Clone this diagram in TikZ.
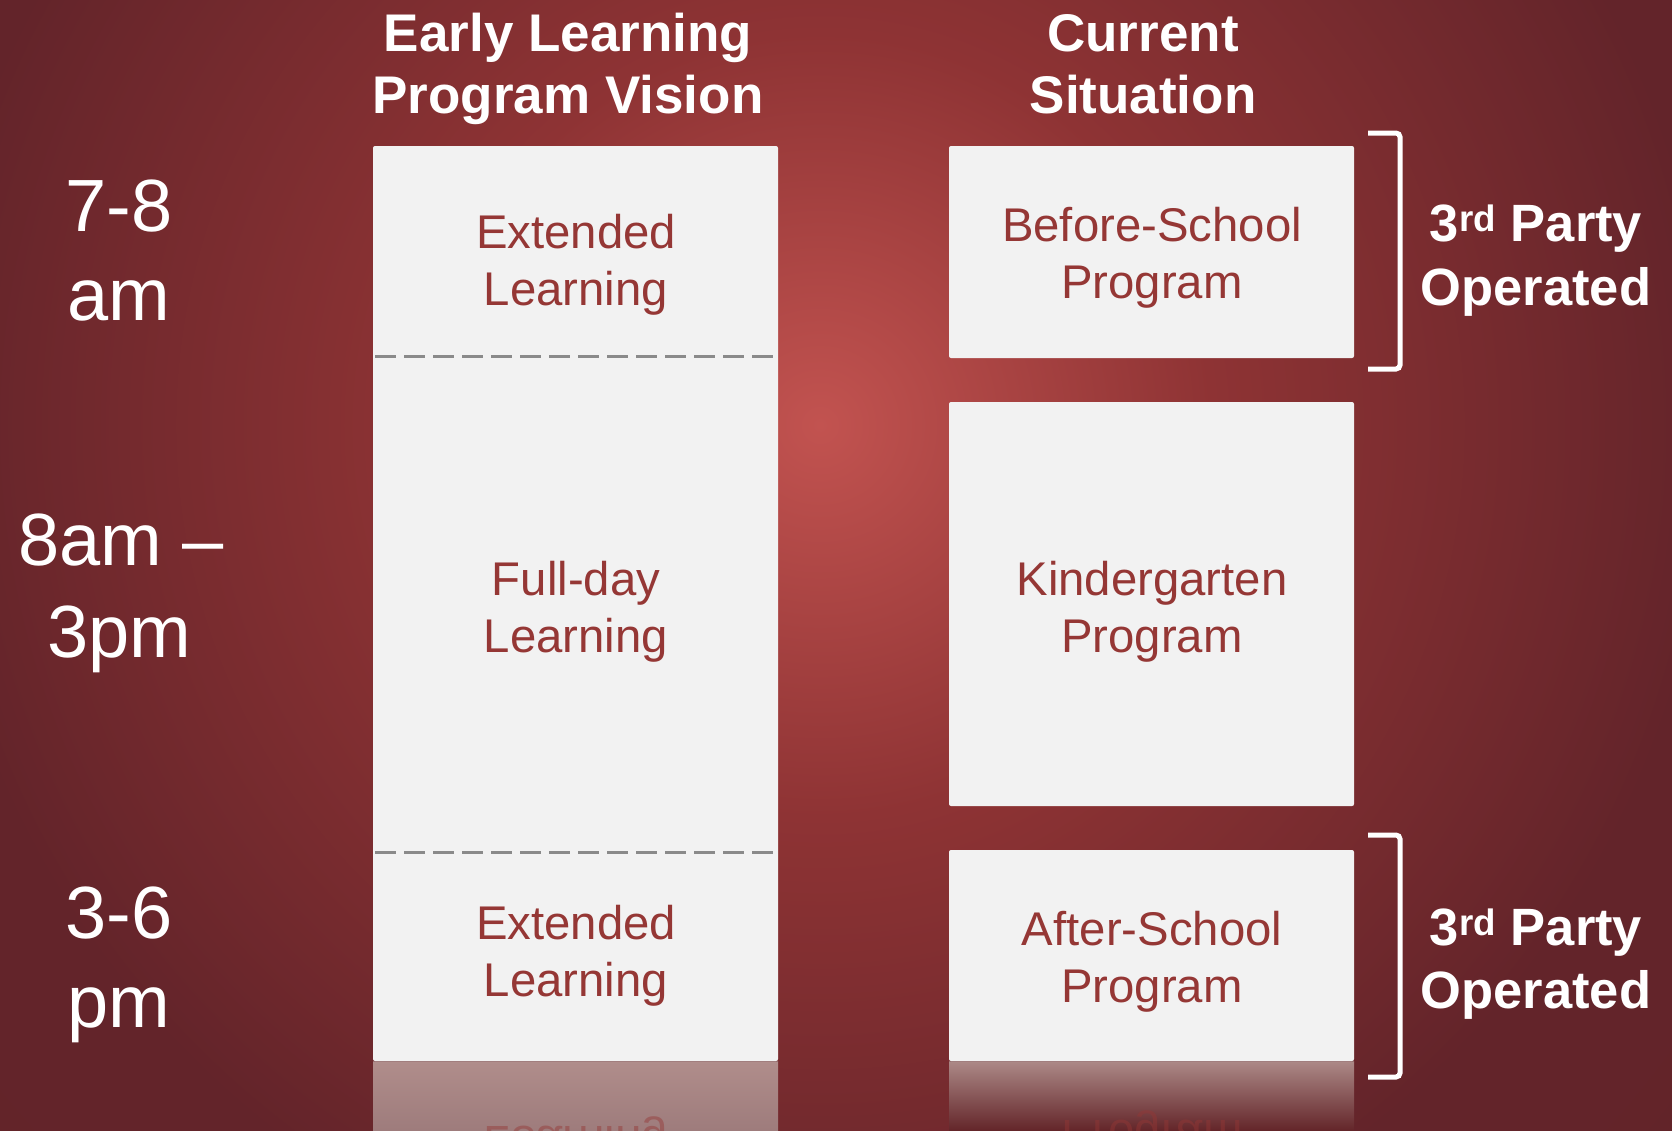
\documentclass[tikz,border=0pt]{standalone}
\usepackage{fontspec}
\setmainfont{Liberation Sans}
\definecolor{bgc}{HTML}{C25350}
\definecolor{bgm}{HTML}{8E3334}
\definecolor{bgd}{HTML}{63242A}
\definecolor{bge}{HTML}{5E2024}
\definecolor{boxfill}{HTML}{F2F2F2}
\definecolor{boxtext}{HTML}{953735}
\definecolor{dashgray}{HTML}{8A8A8A}
\definecolor{refltopL}{RGB}{176,141,139}
\definecolor{reflbotL}{RGB}{158,124,124}
\definecolor{refltopR}{RGB}{172,137,135}
\definecolor{reflbotR}{RGB}{100,38,42}
\definecolor{refledge}{RGB}{150,110,110}
\pgfdeclareradialshading{bgshade}{\pgfpoint{0bp}{0bp}}{color(0bp)=(bgc); color(7bp)=(bgm); color(16bp)=(bgd); color(50bp)=(bge)}
\tikzset{
  x=1pt, y=-1pt,
  panel/.style={fill=boxfill, rounded corners=2pt},
  boxtxt/.style={anchor=base, inner sep=0pt, text=boxtext, font=\fontsize{47.3}{57}\selectfont},
  timetxt/.style={anchor=base, inner sep=0pt, text=white, font=\fontsize{74}{89}\selectfont},
  headtxt/.style={anchor=base, inner sep=0pt, text=white, font=\bfseries\fontsize{53}{62}\selectfont},
  partytxt/.style={anchor=base, inner sep=0pt, text=white, font=\bfseries\fontsize{52.5}{64}\selectfont},
  sepline/.style={draw=dashgray, line width=3pt, dash pattern=on 21pt off 8pt},
  bracketline/.style={draw=white, line width=5pt, rounded corners=4pt},
}
\begin{document}
\begin{tikzpicture}
\useasboundingbox (0,0) rectangle (1672,1130);
\clip (0,0) rectangle (1672,1130);
\fill[bge] (0,0) rectangle (1672,1130);
\shade[shading=bgshade] (-580,-975) rectangle (2220,1825);

% headers
\node[headtxt] (h1a) at (568,51) {Early Learning};
\node[headtxt] (h1b) at (568,113) {Program Vision};
\node[headtxt] (h2a) at (1143,51) {Current};
\node[headtxt] (h2b) at (1143,113) {Situation};

% time labels
\node[timetxt] (t1a) at (119,231) {7-8};
\node[timetxt] (t1b) at (119,320) {am};
\node[timetxt] (t2a) at (121,565) {8am --};
\node[timetxt] (t2b) at (119,657) {3pm};
\node[timetxt] (t3a) at (119,938) {3-6};
\node[timetxt] (t3b) at (119,1027) {pm};

% reflections
\shade[top color=refltopL, bottom color=reflbotL] (373,1061) rectangle (778,1130);
\shade[top color=refltopR, bottom color=reflbotR] (949,1061) rectangle (1354,1130);
\begin{scope}[opacity=0.45]
\node[boxtxt, yscale=-1, transform shape] (rl) at (576,1126) {Learning};
\node[boxtxt, yscale=-1, transform shape] (rr) at (1152,1120) {Program};
\end{scope}
\draw[refledge, line width=1pt] (373,1061.5) -- (778,1061.5);
\draw[refledge, line width=1pt] (949,1061.5) -- (1354,1061.5);

% left column
\path[panel] (373,146) rectangle (778,1061);
\draw[sepline] (375,356) -- (778,356);
\draw[sepline] (375,852) -- (778,852);
\node[boxtxt] (l1a) at (576,248) {Extended};
\node[boxtxt] (l1b) at (576,305) {Learning};
\node[boxtxt] (l2a) at (576,595) {Full-day};
\node[boxtxt] (l2b) at (576,652) {Learning};
\node[boxtxt] (l3a) at (576,939) {Extended};
\node[boxtxt] (l3b) at (576,996) {Learning};

% right column
\path[panel] (949,146) rectangle (1354,358);
\path[panel] (949,402) rectangle (1354,806);
\path[panel] (949,850) rectangle (1354,1061);
\node[boxtxt] (r1a) at (1152,241) {Before-School};
\node[boxtxt] (r1b) at (1152,298) {Program};
\node[boxtxt] (r2a) at (1152,595) {Kindergarten};
\node[boxtxt] (r2b) at (1152,652) {Program};
\node[boxtxt] (r3a) at (1152,945) {After-School};
\node[boxtxt] (r3b) at (1152,1002) {Program};

% brackets
\draw[bracketline] (1368,133) -- (1400,133) -- (1400,369) -- (1368,369);
\draw[bracketline] (1368,835) -- (1400,835) -- (1400,1077) -- (1368,1077);
\node[partytxt] (p1a) at (1536,241) {3\textsuperscript{rd} Party};
\node[partytxt] (p1b) at (1536,305) {Operated};
\node[partytxt] (p2a) at (1536,945) {3\textsuperscript{rd} Party};
\node[partytxt] (p2b) at (1536,1008) {Operated};
\end{tikzpicture}
\end{document}
